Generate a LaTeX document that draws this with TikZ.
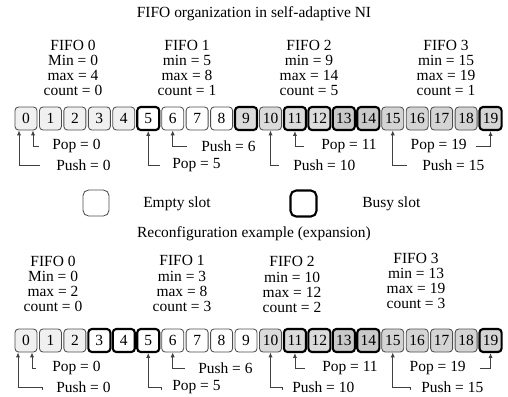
\documentclass[tikz,border=0pt]{standalone}
\usepackage{fontspec}
\setmainfont{Liberation Serif}
\usepackage{tikz}
\usetikzlibrary{arrows.meta}
\definecolor{pale}{gray}{0.94}
\definecolor{grey}{gray}{0.86}
\definecolor{greyer}{gray}{0.79}
\definecolor{greyish}{gray}{0.83}

\begin{document}
\begin{tikzpicture}[x=0.025cm, y=-0.025cm,
  every node/.style={font=\fontsize{11}{10.7}\selectfont},
  slot/.style={draw=black!70, rounded corners=2.5pt, minimum width=0.55cm,
               minimum height=0.575cm, inner sep=0pt, line width=0.6pt},
  freeslot/.style={},
  busyslot/.style={draw=black, line width=1.5pt},
  ptr/.style={draw=black!75, line width=0.6pt, -{Latex[length=3.5pt, width=3pt]}},
  lbl/.style={inner sep=0pt, anchor=west},
  info/.style={align=center, inner sep=0pt}]

  \useasboundingbox (0, 0) rectangle (508, 396);

  \node (title) at (254, 14) {FIFO organization in self-adaptive NI};

  \begin{scope}[shift={(0, 0)}]
    \node[info] (ta) at (73, 68) {FIFO 0\\Min = 0\\max = 4\\count = 0};
    \node[info] (tb) at (187, 68) {FIFO 1\\min = 5\\max = 8\\count = 1};
    \node[info] (tc) at (309, 68) {FIFO 2\\min = 9\\max = 14\\count = 5};
    \node[info] (td) at (446, 68) {FIFO 3\\min = 15\\max = 19\\count = 1};

    \foreach \i/\col/\kind in {0/pale/freeslot, 1/pale/freeslot, 2/pale/freeslot,
        3/pale/freeslot, 4/pale/freeslot, 5/white/busyslot, 6/white/freeslot,
        7/white/freeslot, 8/white/freeslot, 9/grey/busyslot, 10/grey/freeslot,
        11/grey/busyslot, 12/grey/busyslot, 13/greyer/busyslot, 14/greyer/busyslot,
        15/greyish/freeslot, 16/greyish/freeslot, 17/greyish/freeslot,
        18/greyish/freeslot, 19/greyish/busyslot} {
      \node[slot, \kind, fill=\col] (t\i) at ({26 + 24.45 * \i}, 118.5) {\i};
    }

    \node[lbl] (tpop0) at (52, 146) {Pop = 0};
    \node[lbl] (tpush0) at (56, 165) {Push = 0};
    \node[lbl] (tpop5) at (172, 165) {Pop = 5};
    \node[lbl] (tpush6) at (201, 146) {Push = 6};
    \node[lbl] (tpush10) at (293, 165) {Push = 10};
    \node[lbl] (tpop11) at (321, 146) {Pop = 11};
    \node[lbl] (tpush15) at (422, 165) {Push = 15};
    \node[lbl, anchor=east] (tpop19) at (467, 146) {Pop = 19};

    \draw[ptr] ([xshift=-0.325cm]tpop0.west) -| ([xshift=0.175cm]t0.south);
    \draw[ptr] ([xshift=-0.4cm]tpush0.west) -| ([xshift=-0.175cm]t0.south);
    \draw[ptr] ([xshift=-0.3cm]tpop5.west) -| (t5.south);
    \draw[ptr] ([xshift=-0.35cm]tpush6.west) -| (t6.south);
    \draw[ptr] ([xshift=-0.35cm]tpush10.west) -| (t10.south);
    \draw[ptr] ([xshift=-0.425cm]tpop11.west) -| (t11.south);
    \draw[ptr] ([xshift=-0.375cm]tpush15.west) -| (t15.south);
    \draw[ptr] ([xshift=0.225cm]tpop19.east) -| (t19.south);
  \end{scope}

  \node[slot, minimum size=0.65cm, rounded corners=4pt] (emptykey) at (96, 203) {};
  \node[lbl] (emptytxt) at (143, 204) {Empty slot};
  \node[slot, busyslot, minimum size=0.65cm, rounded corners=4pt] (busykey) at (303.5, 203.5) {};
  \node[lbl] (busytxt) at (362, 204) {Busy slot};

  \node (subtitle) at (254, 234) {Reconfiguration example (expansion)};

  \begin{scope}[shift={(0, 222)}]
    \node[info] (ba) at (53, 61.5) {FIFO 0\\Min = 0\\max = 2\\count = 0};
    \node[info] (bb) at (182, 61.5) {FIFO 1\\min = 3\\max = 8\\count = 3};
    \node[info] (bc) at (292, 62.5) {FIFO 2\\min = 10\\max = 12\\count = 2};
    \node[info] (bd) at (416, 59) {FIFO 3\\min = 13\\max = 19\\count = 3};

    \foreach \i/\col/\kind in {0/pale/freeslot, 1/pale/freeslot, 2/pale/freeslot,
        3/white/busyslot, 4/white/busyslot, 5/white/busyslot, 6/white/freeslot,
        7/white/freeslot, 8/white/freeslot, 9/white/freeslot, 10/grey/freeslot,
        11/grey/busyslot, 12/grey/busyslot, 13/greyer/busyslot, 14/greyer/busyslot,
        15/greyish/freeslot, 16/greyish/freeslot, 17/greyish/freeslot,
        18/greyish/freeslot, 19/greyish/busyslot} {
      \node[slot, \kind, fill=\col] (b\i) at ({26 + 24.45 * \i}, 118.5) {\i};
    }

    \node[lbl] (bpop0) at (52, 146) {Pop = 0};
    \node[lbl] (bpush0) at (56, 165) {Push = 0};
    \node[lbl] (bpop5) at (172, 165) {Pop = 5};
    \node[lbl] (bpush6) at (198, 146) {Push = 6};
    \node[lbl] (bpush10) at (292, 165) {Push = 10};
    \node[lbl] (bpop11) at (322, 146) {Pop = 11};
    \node[lbl] (bpush15) at (421, 165) {Push = 15};
    \node[lbl, anchor=east] (bpop19) at (466, 146) {Pop = 19};

    \draw[ptr] ([xshift=-0.4cm]bpop0.west) -| ([xshift=0.15cm]b0.south);
    \draw[ptr] ([xshift=-0.35cm, yshift=-0.08cm]bpush0.west) -- ++(0, -3)
      -| ([xshift=-0.2cm]b0.south);
    \draw[ptr] ([xshift=-0.275cm, yshift=-0.08cm]bpop5.west) -- ++(0, -3)
      -| (b5.south);
    \draw[ptr] ([xshift=-0.325cm]bpush6.west) -| (b6.south);
    \draw[ptr] ([xshift=-0.25cm, yshift=-0.08cm]bpush10.west) -- ++(0, -3)
      -| (b10.south);
    \draw[ptr] ([xshift=-0.425cm]bpop11.west) -| (b11.south);
    \draw[ptr] ([xshift=-0.275cm, yshift=-0.08cm]bpush15.west) -- ++(0, -3)
      -| (b15.south);
    \draw[ptr] ([xshift=0.35cm]bpop19.east) -| (b19.south);
  \end{scope}

\end{tikzpicture}
\end{document}
